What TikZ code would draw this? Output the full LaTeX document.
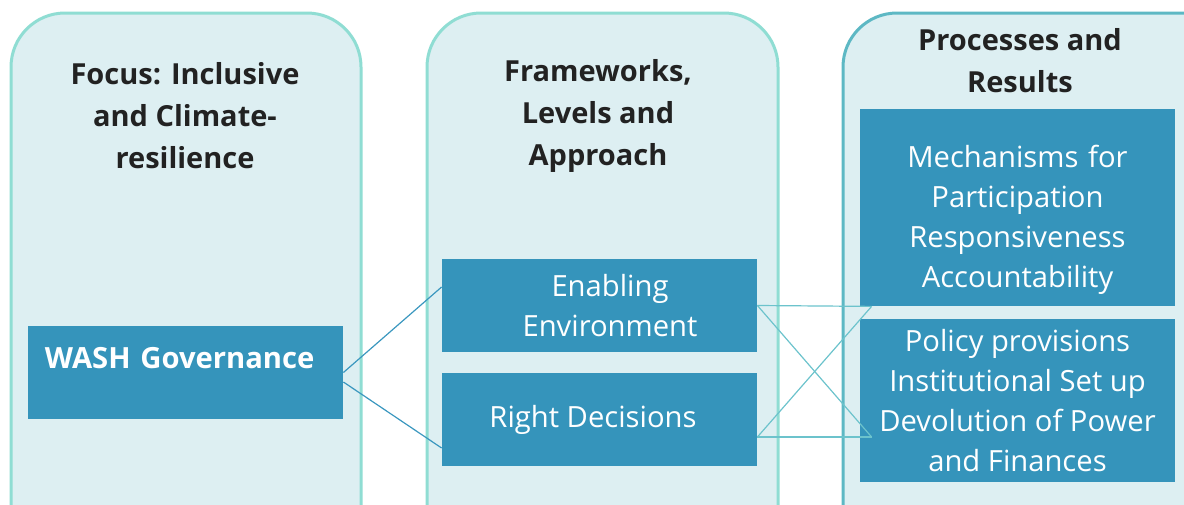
\documentclass[tikz,border=0pt]{standalone}
\usepackage{fontspec}
\setmainfont{Open Sans}
\definecolor{panelfill}{HTML}{DDEFF2}
\definecolor{panelline}{HTML}{8FDDD3}
\definecolor{panelline2}{HTML}{5DB8C4}
\definecolor{boxblue}{HTML}{3594BB}
\definecolor{linkblue}{HTML}{3A97BF}
\definecolor{linkteal}{HTML}{6CC3CC}
\definecolor{headtext}{HTML}{222222}
\tikzset{
	panel/.style={draw=panelline, fill=panelfill, line width=1.5pt, rounded corners=27pt},
	bluebox/.style={fill=boxblue, text=white, minimum width=157.5pt, inner sep=0pt, align=center,
		font=\fontsize{14.6}{20}\selectfont},
	head/.style={align=center, text=headtext, font=\bfseries\fontsize{14.5}{21}\selectfont},
	link/.style={draw=linkblue, line width=0.6pt},
	link2/.style={draw=linkteal, line width=0.6pt}
}
\begin{document}
\begin{tikzpicture}[x=0.5pt,y=-0.5pt]
	\useasboundingbox (0,0) rectangle (1184,504);
	\clip (0,0) rectangle (1184,504);
	
	% panels
	\draw[panel] (11,13) rectangle (361,600);
	\draw[panel] (427,13) rectangle (778,600);
	\draw[panel, draw=panelline2] (843,13) rectangle (1260,600);
	
	\node[head] (focus) at (185,115.5) {Focus: Inclusive\\and Climate-\\resilience};
	\node[head] (frame) at (598,115.5) {Frameworks,\\Levels and\\Approach};
	\node[head] (proc) at (1020,61) {Processes and\\Results};
	
	% boxes
	\node[bluebox, font=\bfseries\fontsize{14.6}{20}\selectfont, text width=140.5pt, align=left,
		inner xsep=8.5pt, text height=21pt, text depth=25.5pt] (wash) at (185.5,372.5) {WASH Governance};
	\node[bluebox, minimum height=46.5pt] (enab) at (599.5,305.5) {\hspace{10.5pt}Enabling\\\hspace{10.5pt}Environment};
	\node[bluebox, minimum height=46.5pt] (decide) at (599.5,419.5) {Right Decisions\hspace{6.5pt}};
	\node[bluebox, text width=157.5pt, text height=29pt, text depth=69.5pt] (mech) at (1017.5,207.5)
		{Mechanisms for\\Participation\\Responsiveness\\Accountability};
	\node[bluebox, minimum height=81.5pt] (policy) at (1017.5,400.5)
		{Policy provisions\\Institutional Set up\\Devolution of Power\\and Finances};
	
	% links
	\draw[link] (wash.east) -- ([yshift=9.25pt]enab.west);
	\draw[link] ([yshift=-4.75pt]wash.east) -- ([yshift=-14.25pt]decide.west);
	
	\draw[link2] (enab.east) -- ([xshift=6pt]mech.south west);
	\draw[link2] (enab.east) -- ([xshift=6pt,yshift=-18.25pt]policy.west);
	\draw[link2] ([yshift=-8.75pt]decide.east) -- ([xshift=6pt]mech.south west);
	\draw[link2] ([yshift=-8.75pt]decide.east) -- ([xshift=6pt,yshift=-18.25pt]policy.west);
\end{tikzpicture}
\end{document}
